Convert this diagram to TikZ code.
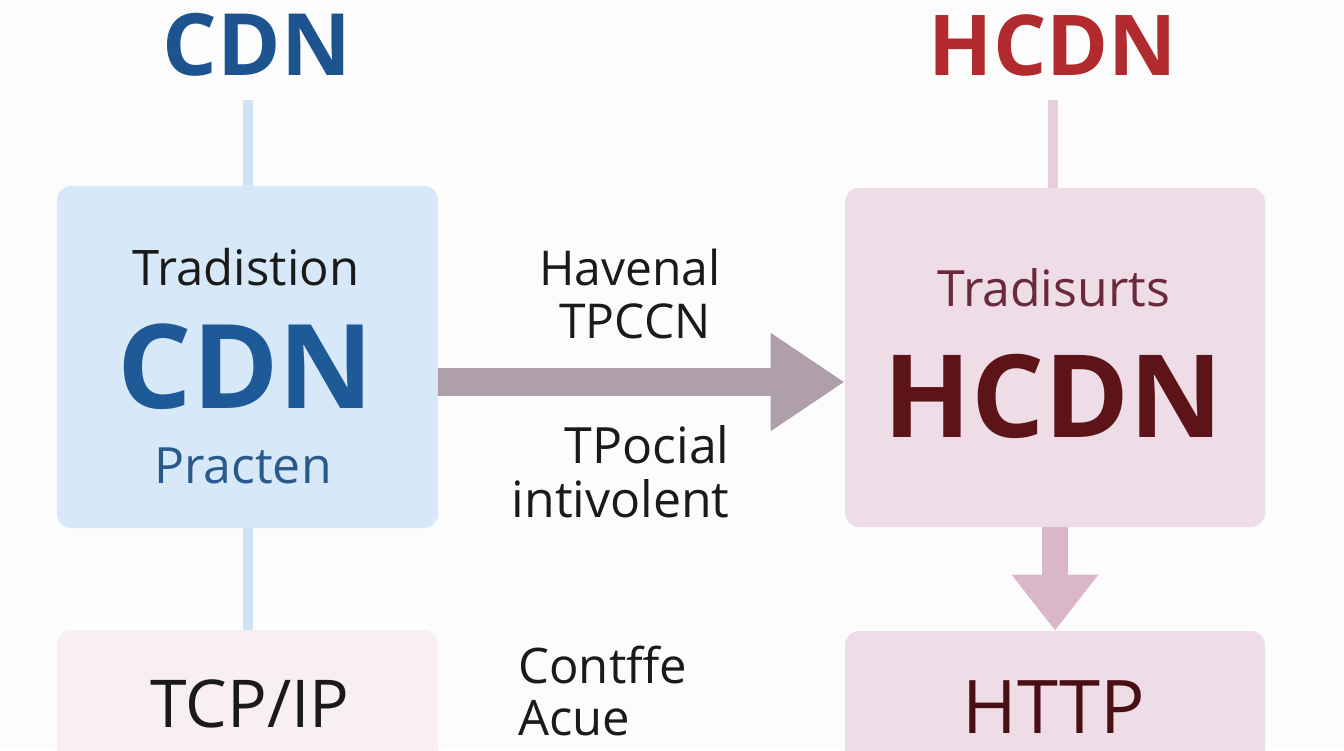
\documentclass[tikz,border=0pt]{standalone}
\usepackage{fontspec}
\setmainfont{Open Sans}
\usetikzlibrary{arrows.meta}
\definecolor{bg}{HTML}{FCFCFD}
\definecolor{cdnblue}{HTML}{1D5490}
\definecolor{hcdnred}{HTML}{B02A2E}
\definecolor{lboxfill}{HTML}{D7E8F8}
\definecolor{rboxfill}{HTML}{EEDCE7}
\definecolor{lbotfill}{HTML}{F8EFF2}
\definecolor{rbotfill}{HTML}{EEDDE7}
\definecolor{arrowgray}{HTML}{AE9FAA}
\definecolor{arrowpink}{HTML}{D9B6C8}
\definecolor{lline}{HTML}{CFE3F5}
\definecolor{rline}{HTML}{E6CEDC}
\definecolor{darktext}{HTML}{1A1A1A}
\definecolor{bigblue}{HTML}{1F5A98}
\definecolor{midblue}{HTML}{2A5A8C}
\definecolor{maroon}{HTML}{6B2A3C}
\definecolor{darkmaroon}{HTML}{5C1419}
\definecolor{httpcol}{HTML}{4A0F14}
\tikzset{
  panel/.style={rounded corners=7pt, inner sep=0pt, minimum width=#1},
  txt/.style={inner sep=0pt, anchor=base},
  conn/.style={line width=5pt},
}
\begin{document}
\begin{tikzpicture}[x=0.5pt,y=-0.5pt]
\useasboundingbox (0,0) rectangle (1344,750);
\clip (0,0) rectangle (1344,750);
\fill[bg] (0,0) rectangle (1344,750);
% titles
\node[txt, text=cdnblue, font=\fontsize{43pt}{48pt}\selectfont\bfseries] (tcdn) at (257,75) {CDN};
\node[txt, text=hcdnred, font=\fontsize{42pt}{48pt}\selectfont\bfseries] (thcdn) at (1053,75) {HCDN};
% panels
\node[panel=190.5pt, minimum height=171pt, fill=lboxfill] (lbox) at (247.5,357) {};
\node[panel=210pt, minimum height=169.5pt, fill=rboxfill] (rbox) at (1055,357.5) {};
\node[panel=190.5pt, minimum height=85pt, fill=lbotfill] (lbot) at (247.5,715) {};
\node[panel=210pt, minimum height=84.5pt, fill=rbotfill] (rbot) at (1055,715.5) {};
% vertical connectors
\coordinate (ltop) at (248,100);
\coordinate (rtop) at (1053,100);
\draw[conn, lline] (ltop) -- (ltop |- lbox.north);
\draw[conn, rline] (rtop) -- (rtop |- rbox.north);
\draw[conn, lline] (ltop |- lbox.south) -- (ltop |- lbot.north);
% horizontal arrow
\coordinate (ay) at (0,382);
\draw[line width=14pt, arrowgray, -{Triangle[length=37pt,width=46.5pt]}] (lbox.east |- ay) -- (rbox.west |- ay);
% down arrow
\coordinate (dx) at (1055,0);
\draw[line width=13pt, arrowpink, -{Triangle[length=28pt,width=41.5pt]}] (dx |- rbox.south) -- (dx |- rbot.north);
% left panel texts
\node[txt, text=darktext, font=\fontsize{24.5pt}{28pt}\selectfont] (l1) at (246,285) {Tradistion};
\node[txt, text=bigblue, font=\fontsize{58.5pt}{64pt}\selectfont\bfseries] (l2) at (246,408) {CDN};
\node[txt, text=midblue, font=\fontsize{25pt}{28pt}\selectfont] (l3) at (243,483) {Practen};
% right panel texts
\node[txt, text=maroon, font=\fontsize{25pt}{28pt}\selectfont] (r1) at (1054,306) {Tradisurts};
\node[txt, text=darkmaroon, font=\fontsize{57.5pt}{64pt}\selectfont\bfseries] (r2) at (1053,437) {HCDN};
% bottom texts
\node[txt, text=darktext, font=\fontsize{33pt}{38pt}\selectfont] (b1) at (250,727) {TCP/IP};
\node[txt, text=httpcol, font=\fontsize{37pt}{42pt}\selectfont] (b2) at (1054,733) {HTTP};
% middle texts
\node[txt, text=darktext, font=\fontsize{24pt}{28pt}\selectfont] (m1) at (630,285) {Havenal};
\node[txt, text=darktext, font=\fontsize{24pt}{28pt}\selectfont] (m2) at (635,338) {TPCCN};
\node[txt, anchor=base east, text=darktext, font=\fontsize{25pt}{28pt}\selectfont] (m3) at (730,463) {TPocial};
\node[txt, anchor=base east, text=darktext, font=\fontsize{25pt}{28pt}\selectfont] (m4) at (730,517) {intivolent};
\node[txt, anchor=base west, text=darktext, font=\fontsize{24.5pt}{28pt}\selectfont] (m5) at (518,683) {Contffe};
\node[txt, anchor=base west, text=darktext, font=\fontsize{24.5pt}{28pt}\selectfont] (m6) at (518,735) {Acue};
\end{tikzpicture}
\end{document}
